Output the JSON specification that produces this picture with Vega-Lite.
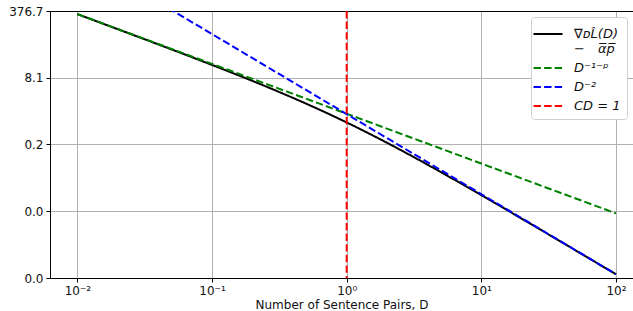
{
  "$schema": "https://vega.github.io/schema/vega-lite/v6.json",
  "width": 583,
  "height": 267,
  "autosize": {"type": "none"},
  "padding": {"left": 50, "top": 11, "right": 0, "bottom": 33},
  "background": "white",
  "config": {
    "font": "DejaVu Sans",
    "view": {"stroke": null},
    "axis": {
      "domainColor": "black", "domainWidth": 1, "tickColor": "black", "tickWidth": 1, "tickSize": 4,
      "labelColor": "#111111", "labelFontSize": 12, "labelFont": "DejaVu Sans",
      "gridColor": "#b0b0b0", "gridWidth": 1, "titleFontWeight": "normal", "titleFontSize": 12, "titleColor": "#111111"
    },
    "legend": {
      "labelFont": "DejaVu Sans", "labelFontSize": 13, "labelColor": "#111111", "labelFontStyle": "italic"
    }
  },
  "datasets": {
    "lines": [
      {"D": 0.01, "value": 314.6, "series": "grad"},
      {"D": 0.017783, "value": 153.0, "series": "grad"},
      {"D": 0.031623, "value": 74.06, "series": "grad"},
      {"D": 0.056234, "value": 35.63, "series": "grad"},
      {"D": 0.1, "value": 16.93, "series": "grad"},
      {"D": 0.177828, "value": 7.886, "series": "grad"},
      {"D": 0.316228, "value": 3.556, "series": "grad"},
      {"D": 0.562341, "value": 1.529, "series": "grad"},
      {"D": 1, "value": 0.6188, "series": "grad"},
      {"D": 1.778279, "value": 0.2345, "series": "grad"},
      {"D": 3.162278, "value": 0.08375, "series": "grad"},
      {"D": 5.623413, "value": 0.02857, "series": "grad"},
      {"D": 10, "value": 0.009448, "series": "grad"},
      {"D": 17.78279, "value": 0.003064, "series": "grad"},
      {"D": 31.62278, "value": 0.000983, "series": "grad"},
      {"D": 56.23413, "value": 0.0003133, "series": "grad"},
      {"D": 100, "value": 0.00009949, "series": "grad"},
      {"D": 0.01, "value": 316.2, "series": "p"},
      {"D": 100, "value": 0.003311, "series": "p"},
      {"D": 0.01, "value": 10000, "series": "two"},
      {"D": 100, "value": 0.0001, "series": "two"}
    ],
    "vline": [{"D": 1, "series": "cd"}]
  },
  "layer": [
    {
      "data": {"name": "lines"},
      "transform": [{"filter": "datum.series == 'grad'"}],
      "mark": {"type": "line", "strokeWidth": 2, "interpolate": "monotone", "clip": true},
      "encoding": {
        "x": {
          "field": "D", "type": "quantitative",
          "scale": {"type": "log", "domain": [0.006266, 133.7], "nice": false},
          "axis": {
            "values": [0.01, 0.1, 1, 10, 100],
            "labelExpr": "datum.value < 0.05 ? '10⁻²' : datum.value < 0.5 ? '10⁻¹' : datum.value < 5 ? '10⁰' : datum.value < 50 ? '10¹' : '10²'",
            "title": "Number of Sentence Pairs, D",
            "grid": true, "labelPadding": 3, "titlePadding": 3, "labelFlush": false
          }
        },
        "y": {
          "field": "value", "type": "quantitative",
          "scale": {"type": "log", "domain": [0.0000805, 376.7], "nice": false},
          "axis": {
            "values": [376.7, 8.1, 0.1742, 0.003745, 0.0000805],
            "format": ".1f", "title": null, "grid": true, "labelPadding": 3, "labelFlush": false
          }
        },
        "color": {
          "field": "series", "type": "nominal",
          "scale": {"domain": ["grad", "p", "two", "cd"], "range": ["#000000", "#008000", "#0000ff", "#ff0000"]},
          "legend": {
            "title": null, "orient": "none", "legendX": 481, "legendY": 6,
            "symbolType": "M-1.45,0H1.45", "symbolSize": 400, "symbolStrokeWidth": 2,
            "fillColor": "white", "strokeColor": "#d0d0d0", "cornerRadius": 3, "padding": 6,
            "rowPadding": 1, "labelOffset": 15,
            "labelExpr": "datum.label == 'grad' ? ['\u2002\u2002∇ᴅL̂(D)\u2002', '−\u2002\u2002α̅̅p̅̅'] : datum.label == 'p' ? 'D⁻¹⁻ᵖ' : datum.label == 'two' ? 'D⁻²' : 'CD = 1'"
          }
        },
        "strokeDash": {
          "field": "series", "type": "nominal",
          "scale": {"domain": ["grad", "p", "two", "cd"], "range": [[1, 0], [7.4, 3.2], [7.4, 3.2], [7.4, 3.2]]},
          "legend": {
            "title": null, "orient": "none", "legendX": 481, "legendY": 6,
            "symbolType": "M-1.45,0H1.45", "symbolSize": 400, "symbolStrokeWidth": 2,
            "fillColor": "white", "strokeColor": "#d0d0d0", "cornerRadius": 3, "padding": 6,
            "rowPadding": 1, "labelOffset": 15,
            "labelExpr": "datum.label == 'grad' ? ['\u2002\u2002∇ᴅL̂(D)\u2002', '−\u2002\u2002α̅̅p̅̅'] : datum.label == 'p' ? 'D⁻¹⁻ᵖ' : datum.label == 'two' ? 'D⁻²' : 'CD = 1'"
          }
        }
      }
    },
    {
      "data": {"name": "lines"},
      "transform": [{"filter": "datum.series == 'p'"}],
      "mark": {"type": "line", "strokeWidth": 2, "clip": true},
      "encoding": {
        "x": {"field": "D", "type": "quantitative", "axis": null},
        "y": {"field": "value", "type": "quantitative"},
        "color": {"field": "series", "type": "nominal"},
        "strokeDash": {"field": "series", "type": "nominal"}
      }
    },
    {
      "data": {"name": "lines"},
      "transform": [{"filter": "datum.series == 'two'"}],
      "mark": {"type": "line", "strokeWidth": 2, "clip": true},
      "encoding": {
        "x": {"field": "D", "type": "quantitative", "axis": null},
        "y": {"field": "value", "type": "quantitative"},
        "color": {"field": "series", "type": "nominal"},
        "strokeDash": {"field": "series", "type": "nominal"}
      }
    },
    {
      "data": {"name": "vline"},
      "mark": {"type": "rule", "strokeWidth": 2},
      "encoding": {
        "x": {
          "field": "D", "type": "quantitative",
          "axis": {"orient": "top", "labels": false, "ticks": false, "grid": false, "title": null, "domainColor": "black"}
        },
        "color": {"field": "series", "type": "nominal"},
        "strokeDash": {"field": "series", "type": "nominal"}
      }
    }
  ],
  "resolve": {"axis": {"x": "independent"}}
}
